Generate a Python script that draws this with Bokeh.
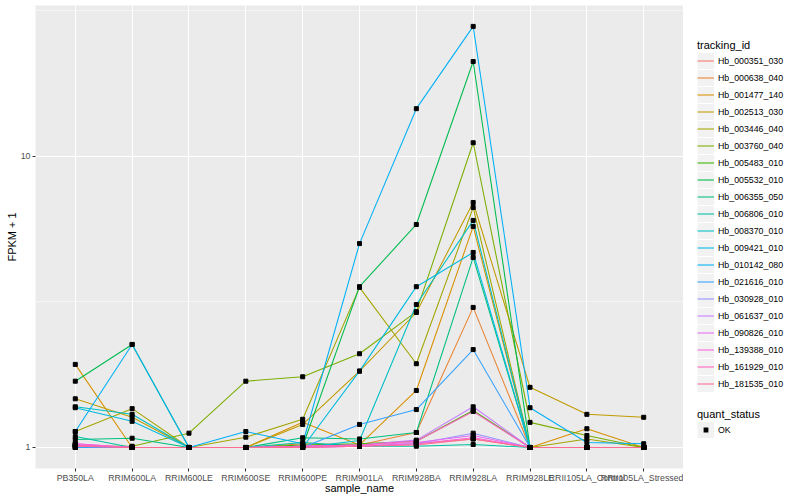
from bokeh.plotting import figure
from bokeh.layouts import row
from bokeh.models import FactorRange, Range1d, FixedTicker, Legend, LegendItem, BasicTickFormatter
from bokeh.embed import file_html
from bokeh.resources import INLINE

samples = ["PB350LA", "RRIM600LA", "RRIM600LE", "RRIM600SE", "RRIM600PE", "RRIM901LA",
           "RRIM928BA", "RRIM928LA", "RRIM928LE", "RRII105LA_Control", "RRII105LA_Stressed"]

tracking_ids = ["Hb_000351_030", "Hb_000638_040", "Hb_001477_140", "Hb_002513_030",
                "Hb_003446_040", "Hb_003760_040", "Hb_005483_010", "Hb_005532_010",
                "Hb_006355_050", "Hb_006806_010", "Hb_008370_010", "Hb_009421_010",
                "Hb_010142_080", "Hb_021616_010", "Hb_030928_010", "Hb_061637_010",
                "Hb_090826_010", "Hb_139388_010", "Hb_161929_010", "Hb_181535_010"]

colors = ["#F8766D", "#EA8331", "#D89000", "#C09B00", "#A3A500", "#7CAE00", "#39B600",
          "#00BB4E", "#00BF7D", "#00C1A3", "#00BFC4", "#00BAE0", "#00B0F6", "#35A2FF",
          "#9590FF", "#C77CFF", "#E76BF3", "#FA62DB", "#FF62BC", "#FF6C91"]

# FPKM + 1 per sample
hb_000351_030 = [1.02, 1.0, 1.0, 1.0, 1.01, 1.01, 1.03, 1.07, 1.0, 1.0, 1.0]
hb_000638_040 = [1.0, 1.0, 1.0, 1.0, 1.03, 1.02, 1.126, 3.03, 1.0, 1.0, 1.0]
hb_001477_140 = [1.93, 1.0, 1.0, 1.0, 1.22, 1.02, 1.57, 5.75, 1.0, 1.16, 1.0]
hb_002513_030 = [1.47, 1.27, 1.0, 1.0, 1.20, 1.83, 2.91, 6.95, 1.61, 1.30, 1.27]
hb_003446_040 = [1.135, 1.36, 1.0, 1.085, 1.25, 3.55, 1.94, 6.68, 1.0, 1.07, 1.0]
hb_003760_040 = [1.01, 1.01, 1.12, 1.69, 1.75, 2.10, 2.93, 11.15, 1.22, 1.10, 1.0]
hb_005483_010 = [1.0, 1.0, 1.0, 1.0, 1.02, 1.03, 1.05, 1.34, 1.0, 1.0, 1.0]
hb_005532_010 = [1.69, 2.26, 1.0, 1.0, 1.01, 3.57, 5.84, 21.2, 1.0, 1.0, 1.0]
hb_006355_050 = [1.065, 1.076, 1.0, 1.0, 1.08, 1.07, 1.126, 4.50, 1.0, 1.0, 1.0]
hb_006806_010 = [1.09, 1.0, 1.0, 1.0, 1.04, 1.01, 1.01, 1.024, 1.0, 1.0, 1.0]
hb_008370_010 = [1.38, 1.30, 1.0, 1.0, 1.0, 1.057, 3.10, 6.03, 1.0, 1.0, 1.0]
hb_009421_010 = [1.37, 1.23, 1.0, 1.0, 1.0, 1.83, 3.57, 4.68, 1.0, 1.0, 1.0]
hb_010142_080 = [1.135, 2.26, 1.0, 1.135, 1.03, 5.02, 14.6, 28.0, 1.37, 1.04, 1.03]
hb_021616_010 = [1.0, 1.0, 1.0, 1.0, 1.0, 1.20, 1.35, 2.17, 1.0, 1.0, 1.0]
hb_030928_010 = [1.01, 1.0, 1.0, 1.0, 1.0, 1.01, 1.03, 1.12, 1.0, 1.0, 1.0]
hb_061637_010 = [1.02, 1.0, 1.0, 1.0, 1.01, 1.02, 1.06, 1.38, 1.0, 1.0, 1.0]
hb_090826_010 = [1.03, 1.0, 1.0, 1.0, 1.01, 1.02, 1.04, 1.10, 1.0, 1.0, 1.0]
hb_139388_010 = [1.03, 1.0, 1.0, 1.0, 1.0, 1.01, 1.03, 1.08, 1.0, 1.0, 1.0]
hb_161929_010 = [1.02, 1.0, 1.0, 1.0, 1.01, 1.02, 1.05, 1.33, 1.0, 1.0, 1.0]
hb_181535_010 = [1.01, 1.0, 1.0, 1.0, 1.0, 1.01, 1.02, 1.07, 1.0, 1.0, 1.0]

series = [hb_000351_030, hb_000638_040, hb_001477_140, hb_002513_030, hb_003446_040,
          hb_003760_040, hb_005483_010, hb_005532_010, hb_006355_050, hb_006806_010,
          hb_008370_010, hb_009421_010, hb_010142_080, hb_021616_010, hb_030928_010,
          hb_061637_010, hb_090826_010, hb_139388_010, hb_161929_010, hb_181535_010]

FONT = "Liberation Sans"
KEY_BG = "#F2F2F2"

# log10 extent of the panel (data range 1..28 with 5% expansion)
y_lo = 10 ** (-0.0722)
y_hi = 10 ** (1.5189)

p = figure(x_range=FactorRange(factors=samples, range_padding=0.2, range_padding_units="absolute"),
           y_axis_type="log", y_range=Range1d(y_lo, y_hi),
           frame_width=648, frame_height=463,
           min_border_left=35, min_border_top=5, min_border_bottom=0, min_border_right=0,
           output_backend="svg", toolbar_location=None,
           background_fill_color="#EBEBEB", border_fill_color="white", outline_line_color=None)

line_renderers = []
for vals, col in zip(series, colors):
    r = p.line(x=samples, y=vals, line_color=col, line_width=1.07)
    line_renderers.append(r)

px, py = [], []
for vals in series:
    px += samples
    py += vals
pts = p.scatter(px, py, marker="square", size=4, color="black")

# axes
p.yaxis.ticker = FixedTicker(ticks=[1, 10], minor_ticks=[10 ** 0.5, 10 ** 1.5])
p.yaxis.formatter = BasicTickFormatter()
p.xaxis.axis_label = "sample_name"
p.yaxis.axis_label = "FPKM + 1"
for ax in (p.xaxis[0], p.yaxis[0]):
    ax.axis_line_color = None
    ax.major_tick_line_color = "#333333"
    ax.major_tick_line_width = 1.07
    ax.major_tick_out = 3
    ax.major_tick_in = 0
    ax.minor_tick_line_color = None
    ax.major_label_text_font = FONT
    ax.major_label_text_font_size = "8.8px"
    ax.major_label_text_color = "#4D4D4D"
    ax.axis_label_text_font = FONT
    ax.axis_label_text_font_size = "11px"
    ax.axis_label_text_font_style = "normal"
    ax.axis_label_text_color = "black"
    ax.major_label_standoff = 1
    ax.axis_label_standoff = 0
p.xaxis.axis_label_standoff = -4

p.xgrid.grid_line_color = "white"
p.xgrid.grid_line_width = 1.07
p.ygrid.grid_line_color = "white"
p.ygrid.grid_line_width = 1.07
p.ygrid.minor_grid_line_color = "white"
p.ygrid.minor_grid_line_width = 0.53

# legend panel: proxy renderers sit outside its visible range and only feed the legend keys
LH = 500
q = figure(width=110, height=LH, x_range=Range1d(0, 1), y_range=Range1d(100, 101),
           x_axis_location=None, y_axis_location=None,
           min_border_left=0, min_border_top=0, min_border_bottom=0, min_border_right=0,
           output_backend="svg", toolbar_location=None,
           background_fill_color="white", border_fill_color="white", outline_line_color=None)
q.grid.visible = False

idx = list(range(len(samples)))
# grey key background: a wide butt-capped line fills the key box
key_bg = q.line(x=idx, y=hb_000351_030, line_color=KEY_BG, line_width=16)
proxy_lines = [q.line(x=idx, y=vals, line_color=col, line_width=1.07) for vals, col in zip(series, colors)]
qx, qy = [], []
for vals in series:
    qx += idx
    qy += vals
proxy_pts = q.scatter(qx, qy, marker="square", size=4, fill_color="black",
                      line_color=KEY_BG, line_width=2)

def style_legend(lg):
    lg.title_text_font = FONT
    lg.title_text_font_size = "11px"
    lg.title_text_font_style = "normal"
    lg.title_text_color = "black"
    lg.label_text_font = FONT
    lg.label_text_font_size = "8.8px"
    lg.label_text_color = "black"
    lg.glyph_width = 17
    lg.glyph_height = 17
    lg.label_height = 17
    lg.label_standoff = 4
    lg.spacing = 0
    lg.padding = 0
    lg.margin = 0
    lg.title_standoff = 1
    lg.border_line_color = None
    lg.background_fill_alpha = 0

leg1 = Legend(items=[LegendItem(label=n, renderers=[key_bg, r]) for n, r in zip(tracking_ids, proxy_lines)],
              title="tracking_id", location=(14, 80))
style_legend(leg1)
q.add_layout(leg1)

leg2 = Legend(items=[LegendItem(label="OK", renderers=[key_bg, proxy_pts])], title="quant_status",
              location=(14, 34))
style_legend(leg2)
q.add_layout(leg2)

layout = row(p, q)
open("out.html", "w").write(file_html(layout, INLINE))
